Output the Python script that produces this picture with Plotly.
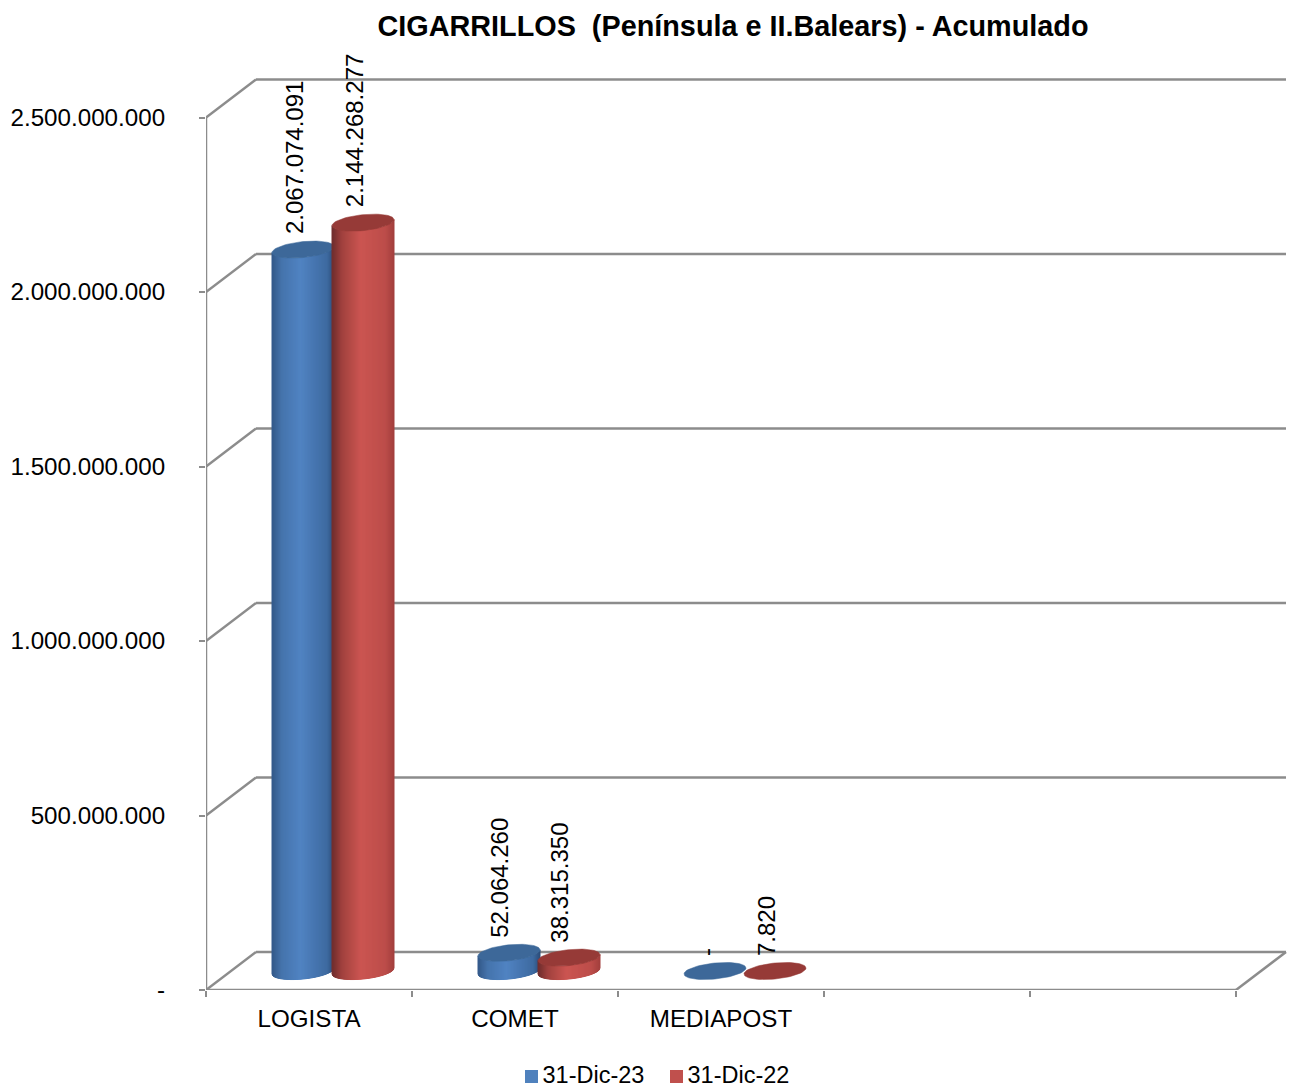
import numpy as np
import plotly.graph_objects as go

title = "CIGARRILLOS  (Península e II.Balears) - Acumulado"
categories = ["LOGISTA", "COMET", "MEDIAPOST", "", ""]
series_names = ["31-Dic-23", "31-Dic-22"]
values_2023 = [2067074091, 52064260, 0]
values_2022 = [2144268277, 38315350, 7820]
labels_2023 = ["2.067.074.091", "52.064.260", "-"]
labels_2022 = ["2.144.268.277", "38.315.350", "7.820"]
y_ticks = [0, 500000000, 1000000000, 1500000000, 2000000000, 2500000000]
y_tick_text = ["-", "500.000.000", "1.000.000.000", "1.500.000.000", "2.000.000.000", "2.500.000.000"]

W, H = 1292, 1086
L, B, T = 206, 96, 56
PX_X = 1 / 206.0
PX_Y = 5e8 / 174.5
x_max = (W - L) * PX_X
y_max = (H - B - T) * PX_Y
DX, DY = 50 * PX_X, 38 * PX_Y
GRID = "#8c8c8c"
FONT = "Liberation Sans, Arial, sans-serif"

BODY = {
    0: [(0, (42, 74, 118)), (0.12, (62, 106, 160)), (0.55, (80, 131, 194)), (0.85, (69, 116, 172)), (1, (52, 90, 138))],
    1: [(0, (160, 62, 60)), (0.15, (188, 77, 74)), (0.55, (203, 85, 81)), (0.85, (160, 65, 62)), (1, (112, 46, 45))],
}
CAP = {0: "#3d6899", 1: "#963a37"}
LEG = {0: "#4f81bd", 1: "#c0504d"}
BAR_OFF = {0: -31, 1: 29}
A, Bb, S = 31, 8, 3
N_STRIPS = 62


def mix(stops, u):
    r = [np.interp(u, [s[0] for s in stops], [s[1][i] for s in stops]) for i in range(3)]
    return "rgb(%d,%d,%d)" % tuple(int(round(c)) for c in r)


def ell(t, cx, cy_val):
    x = cx + A * np.cos(t) * PX_X
    y = cy_val + (Bb * np.sin(t) + S * np.cos(t)) * PX_Y
    return x, y


fig = go.Figure()

for idx, vals in enumerate([values_2023, values_2022]):
    for i, v in enumerate(vals):
        cx = i + 0.5 + DX / 2 + BAR_OFF[idx] * PX_X
        base = DY / 2
        top = base + v
        if v / PX_Y > 1:
            us = np.linspace(0, 1, N_STRIPS + 1)
            for k in range(N_STRIPS):
                uu = np.linspace(us[k], us[k + 1], 3)
                tt = -np.arccos(1 - 2 * uu)
                bx, by = ell(tt, cx, base)
                tx, ty = ell(tt, cx, top)
                c = mix(BODY[idx], uu.mean())
                fig.add_trace(go.Scatter(
                    x=list(bx) + list(tx[::-1]) + [bx[0]],
                    y=list(by) + list(ty[::-1]) + [by[0]],
                    mode="lines", fill="toself", fillcolor=c,
                    line=dict(color=c, width=1),
                    hoverinfo="skip", showlegend=False))
        t = np.linspace(0, 2 * np.pi, 73)
        ex, ey = ell(t, cx, top)
        fig.add_trace(go.Scatter(
            x=ex, y=ey, mode="lines", fill="toself", fillcolor=CAP[idx],
            line=dict(color=CAP[idx], width=0.5), hoverinfo="skip", showlegend=False))

for idx, name in enumerate(series_names):
    fig.add_trace(go.Scatter(
        x=[None], y=[None], mode="markers", name=name, legend="legend" if idx == 0 else "legend2",
        marker=dict(symbol="square", size=14, color="rgba(0,0,0,0)", line=dict(width=0))))

shapes = []
line = dict(color=GRID, width=2.5)
for v in y_ticks:
    shapes.append(dict(type="line", xref="x", yref="y", x0=0, y0=v, x1=DX, y1=v + DY, line=line, layer="below"))
    shapes.append(dict(type="line", xref="x", yref="y", x0=DX, y0=v + DY, x1=5 + DX, y1=v + DY, line=line, layer="below"))
shapes.append(dict(type="line", xref="x", yref="y", x0=5, y0=0, x1=5 + DX, y1=DY, line=line, layer="below"))
shapes.append(dict(type="line", xref="x", yref="y", x0=0, y0=0, x1=0, y1=y_ticks[-1], line=line, layer="below"))
shapes.append(dict(type="line", xref="x", yref="y", x0=0, y0=0, x1=5, y1=0, line=line, layer="below"))

# legend swatches sit closer to their text than a Plotly legend allows
PW, PH = W - L, H - B - T
for idx, x_left in enumerate([525, 670]):
    shapes.append(dict(type="rect", xref="paper", yref="paper",
                       x0=(x_left - L) / PW, x1=(x_left + 13 - L) / PW,
                       y0=(990 - 1083) / PH, y1=(990 - 1070) / PH,
                       fillcolor=LEG[idx], line=dict(width=0)))

annotations = []
for idx, labs in enumerate([labels_2023, labels_2022]):
    vals = [values_2023, values_2022][idx]
    for i, lab in enumerate(labs):
        cx = i + 0.5 + DX / 2 + (BAR_OFF[idx] - 9) * PX_X
        annotations.append(dict(
            x=cx, y=DY / 2 + vals[i] + 15 * PX_Y, xref="x", yref="y", text=lab, textangle=-90,
            showarrow=False, xanchor="center", yanchor="bottom", borderpad=0, borderwidth=0,
            font=dict(family=FONT, size=24, color="#000000")))

leg_common = dict(orientation="h", xref="container", yref="container", xanchor="left",
                  y=1 - 1074 / H, yanchor="middle", font=dict(family=FONT, size=23.5),
                  bgcolor="rgba(0,0,0,0)")

fig.update_layout(
    width=W, height=H, autosize=False,
    margin=dict(l=L, r=0, t=T, b=B, pad=0),
    paper_bgcolor="white", plot_bgcolor="white",
    font=dict(family=FONT, size=24, color="#000000"),
    title=dict(text=title, x=733 / W, xref="container", xanchor="center", y=1 - 26 / H, yref="container", yanchor="middle",
               font=dict(family=FONT, size=28.8, color="#000000", weight="bold")),
    xaxis=dict(range=[0, x_max], tickmode="array", tickvals=[0.5, 1.5, 2.5, 3.5, 4.5], ticktext=categories,
               ticks="", showgrid=False, zeroline=False, showline=False,
               ticklabelstandoff=12, tickfont=dict(family=FONT, size=24.2),
               minor=dict(tickmode="array", tickvals=[0, 1, 2, 3, 4, 5], ticks="outside", ticklen=6,
                          tickcolor=GRID, tickwidth=2, showgrid=False)),
    yaxis=dict(range=[0, y_max], tickmode="array", tickvals=y_ticks, ticktext=y_tick_text,
               ticks="outside", ticklen=6, tickcolor=GRID, tickwidth=2, showgrid=False, zeroline=False,
               showline=False, ticklabelstandoff=29,
               tickfont=dict(family=FONT, size=24.2)),
    legend=dict(x=(543 - 40.5) / W, **leg_common),
    legend2=dict(x=(688 - 40.5) / W, **leg_common),
    shapes=shapes, annotations=annotations,
)

fig.write_html("out.html", post_script="document.body.style.margin='0';", config={"displayModeBar": False})
